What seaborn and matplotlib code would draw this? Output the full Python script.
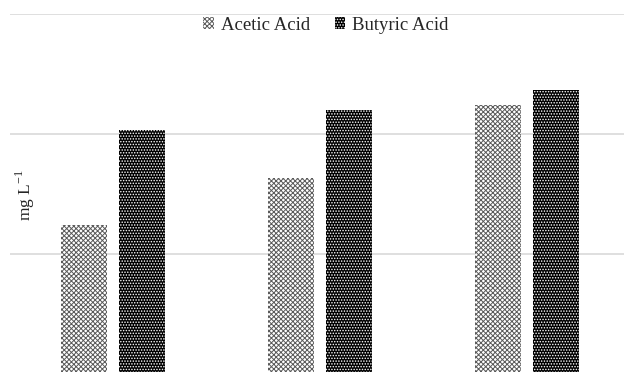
import matplotlib
matplotlib.use("Agg")
import matplotlib.pyplot as plt
import pandas as pd
import seaborn as sns

# ── Data (mg/L) ─────────────────────────────────────────────────────────────
groups   = ["1", "2", "3"]
acetic   = [124, 163, 224]
butyric  = [203, 220, 237]
series   = ["Acetic Acid", "Butyric Acid"]
y_ticks  = [0, 100, 200, 300]

df = pd.DataFrame({
    "group": groups * 2,
    "acid":  [series[0]] * 3 + [series[1]] * 3,
    "value": acetic + butyric,
})

sns.set_theme(style="white")
plt.rcParams["font.family"] = ["Liberation Serif", "DejaVu Serif"]
plt.rcParams["hatch.linewidth"] = 0.7

fig = plt.figure(figsize=(6.24, 3.72), dpi=100)
ax = fig.add_axes([9.5 / 624, -2 / 372, 621 / 624, 360 / 372])

sns.barplot(data=df, x="group", y="value", hue="acid", order=groups,
            hue_order=series, width=0.56, gap=0.2, ax=ax, legend=False)

# bar fills: grey checker for acetic, white dots on black for butyric
styles = [("white", "#5a5a5a", "xxxxxxx"), ("black", "white", "......")]
for cont, (fc, hc, hatch) in zip(ax.containers, styles):
    for bar in cont:
        bar.set_facecolor(fc)
        bar.set_edgecolor(hc)
        bar.set_hatch(hatch)
        bar.set_linewidth(0)

ax.set_ylim(0, 300)
ax.set_yticks(y_ticks)
ax.set_yticklabels([])
ax.set_xticks([])
ax.set_xlabel("")
ax.set_ylabel("")
ax.grid(axis="y", color="#d9d9d9", linewidth=1.2)
ax.set_axisbelow(True)
for s in ax.spines.values():
    s.set_visible(False)

fig.legend(ax.containers[0][:1] + ax.containers[1][:1], series,
           loc="center", bbox_to_anchor=(326 / 624, 1 - 25 / 372),
           ncol=2, frameon=False, fontsize=13.5,
           handlelength=0.55, handleheight=0.55, handletextpad=0.4,
           columnspacing=1.3, borderpad=0)

fig.text(25 / 624, 1 - 195 / 372, r"mg L$^{\mathregular{-1}}$", rotation=90,
         ha="center", va="center", fontsize=12.5)

fig.savefig("out.png", dpi=100)
